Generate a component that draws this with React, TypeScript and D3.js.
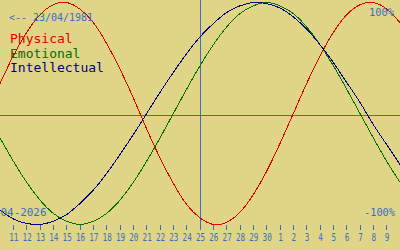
import React from "react";
import * as d3 from "d3";

// Day offsets from the current day (25/04/2026), one sample per day
const dayOffsets = [-15,-14,-13,-12,-11,-10,-9,-8,-7,-6,-5,-4,-3,-2,-1,0,1,2,3,4,5,6,7,8,9,10,11,12,13,14,15];

const physical = [0.27,0.52,0.73,0.89,0.98,1.00,0.94,0.82,0.63,0.40,0.14,-0.14,-0.40,-0.63,-0.82,-0.94,-1.00,-0.98,-0.89,-0.73,-0.52,-0.27,0.00,0.27,0.52,0.73,0.89,0.98,1.00,0.94,0.82];
const emotional = [-0.22,-0.43,-0.62,-0.78,-0.90,-0.97,-1.00,-0.97,-0.90,-0.78,-0.62,-0.43,-0.22,0.00,0.22,0.43,0.62,0.78,0.90,0.97,1.00,0.97,0.90,0.78,0.62,0.43,0.22,0.00,-0.22,-0.43,-0.62];
const intellectual = [-0.87,-0.95,-0.99,-1.00,-0.97,-0.91,-0.81,-0.69,-0.54,-0.37,-0.19,0.00,0.19,0.37,0.54,0.69,0.81,0.91,0.97,1.00,0.99,0.95,0.87,0.76,0.62,0.46,0.28,0.10,-0.10,-0.28,-0.46];

const tickOffsets = [-14,-13,-12,-11,-10,-9,-8,-7,-6,-5,-4,-3,-2,-1,0,1,2,3,4,5,6,7,8,9,10,11,12,13,14];
const tickLabels = ["11","12","13","14","15","16","17","18","19","20","21","22","23","24","25","26","27","28","29","30","1","2","3","4","5","6","7","8","9"];

const seriesNames = ["Physical", "Emotional", "Intellectual"];
const seriesColors = ["#dd0000", "#007000", "#000088"];

const birthLabel = "<-- 23/04/1981";
const dateLabel = "04-2026";

const W = 400;
const H = 250;
const BG = "#e0d486";
const AXIS = "#3a6fc0";
const FONT = "'DejaVu Sans Mono', 'Liberation Mono', monospace";

export default function App() {
  const x = d3.scaleLinear().domain([-15, 15]).range([0, W]);
  const y = d3.scaleLinear().domain([-1, 1]).range([224.5, 2.5]);
  const allSeries = [physical, emotional, intellectual];

  const line = (vals: number[]) =>
    d3
      .line<number>()
      .x((_, i) => x(dayOffsets[i]))
      .y((v) => y(v))
      .curve(d3.curveNatural)(vals) || "";

  return (
    <div style={{ position: "fixed", left: 0, top: 0, width: W, height: H }}>
      <svg width={W} height={H} style={{ display: "block", background: BG }}>
        <rect x={0} y={0} width={W} height={H} fill={BG} />
        {/* midline */}
        <line x1={0} x2={W} y1={115.5} y2={115.5} stroke={AXIS} strokeWidth={1} shapeRendering="crispEdges" />
        {/* today line */}
        <line x1={x(0) + 0.5} x2={x(0) + 0.5} y1={0} y2={230} stroke={AXIS} strokeWidth={1} shapeRendering="crispEdges" />
        {/* ticks */}
        {tickOffsets.map((d, i) => (
          <g key={i}>
            <line
              x1={Math.floor(x(d)) + 0.5}
              x2={Math.floor(x(d)) + 0.5}
              y1={225}
              y2={230}
              stroke={AXIS}
              strokeWidth={1}
              shapeRendering="crispEdges"
            />
            <text
              x={x(d) + 0.5}
              y={241}
              textAnchor="middle"
              fontFamily={FONT}
              fontSize={10}
              fill={AXIS}
              textLength={tickLabels[i].length * 4.6}
              lengthAdjust="spacingAndGlyphs"
            >
              {tickLabels[i]}
            </text>
          </g>
        ))}
        {/* curves */}
        {allSeries.map((vals, i) => (
          <path key={i} d={line(vals)} fill="none" stroke={seriesColors[i]} strokeWidth={1} shapeRendering="crispEdges" />
        ))}
        {/* texts */}
        <text x={9} y={21} fontFamily={FONT} fontSize={11} fill={AXIS} textLength={84} lengthAdjust="spacingAndGlyphs">{birthLabel}</text>
        <text x={369} y={16} fontFamily={FONT} fontSize={11} fill={AXIS} textLength={25} lengthAdjust="spacingAndGlyphs">100%</text>
        <text x={364} y={216} fontFamily={FONT} fontSize={11} fill={AXIS} textLength={31} lengthAdjust="spacingAndGlyphs">-100%</text>
        <text x={0.5} y={216} fontFamily={FONT} fontSize={11} fill={AXIS} textLength={46} lengthAdjust="spacingAndGlyphs">{dateLabel}</text>
        {seriesNames.map((n, i) => (
          <text key={n} x={10} y={43 + i * 14.5} fontFamily={FONT} fontSize={13} fill={seriesColors[i]}>
            {n}
          </text>
        ))}
      </svg>
    </div>
  );
}
